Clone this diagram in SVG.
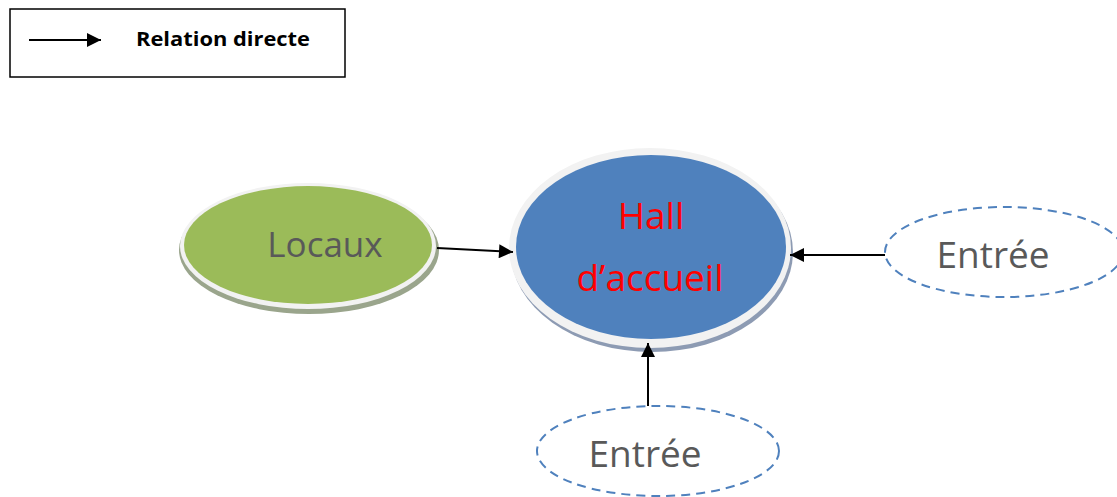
<svg xmlns="http://www.w3.org/2000/svg" width="1117" height="497" viewBox="0 0 1117 497">
<defs>
<marker id="ahL" viewBox="0 0 10 10" refX="10" refY="5" markerWidth="16" markerHeight="14" markerUnits="userSpaceOnUse" orient="auto">
<path d="M0,0 L10,5 L0,10 z" fill="#000"/>
</marker>
</defs>
<style>
.lbl{font-family:"Open Sans","Liberation Sans",sans-serif;fill:#595959;text-anchor:middle}
.dash{fill:#fff;stroke:#4f81bd;stroke-width:2;stroke-dasharray:9,6}
.conn{stroke:#000;stroke-width:2;fill:none}
</style>
<rect width="1117" height="497" fill="#fff"/>
<g id="legend">
<rect x="10" y="9" width="335" height="68" fill="#fff" stroke="#000" stroke-width="1.5"/>
<line x1="29" y1="40" x2="101" y2="40" class="conn" marker-end="url(#ahL)"/>
<text x="223" y="46" font-family="'Open Sans','Liberation Sans',sans-serif" font-weight="bold" font-size="20" text-anchor="middle" textLength="174" lengthAdjust="spacingAndGlyphs" fill="#000">Relation directe</text>
</g>
<g id="locaux">
<ellipse cx="309" cy="250" rx="130" ry="64" fill="#9aa58c"/>
<ellipse cx="308" cy="246" rx="128" ry="63" fill="#f2f2f2"/>
<ellipse cx="308" cy="245" rx="124" ry="59" fill="#9bbb59"/>
<text x="325" y="257" class="lbl" font-size="35">Locaux</text>
</g>
<g id="hall">
<ellipse cx="652" cy="252" rx="141" ry="100" fill="#8d9bb3"/>
<ellipse cx="650" cy="248" rx="141" ry="100" fill="#f2f2f2"/>
<ellipse cx="651" cy="247" rx="135" ry="92" fill="#4f81bd"/>
<text x="651" y="229" font-family="'Open Sans','Liberation Sans',sans-serif" font-size="37" fill="#ff0000" text-anchor="middle">Hall</text>
<text x="650" y="291" font-family="'Open Sans','Liberation Sans',sans-serif" font-size="37" fill="#ff0000" text-anchor="middle">d’accueil</text>
</g>
<g id="entree-droite">
<ellipse cx="1004" cy="252" rx="119" ry="45" class="dash"/>
<text x="993" y="268" class="lbl" font-size="37">Entrée</text>
</g>
<g id="entree-bas">
<ellipse cx="658" cy="451" rx="121" ry="45" class="dash"/>
<text x="645" y="467" class="lbl" font-size="37">Entrée</text>
</g>
<g id="connectors">
<line x1="437" y1="248" x2="513" y2="252" class="conn" marker-end="url(#ahL)"/>
<line x1="885" y1="255" x2="790" y2="255" class="conn" marker-end="url(#ahL)"/>
<line x1="648" y1="406" x2="648" y2="343" class="conn" marker-end="url(#ahL)"/>
</g>
</svg>
